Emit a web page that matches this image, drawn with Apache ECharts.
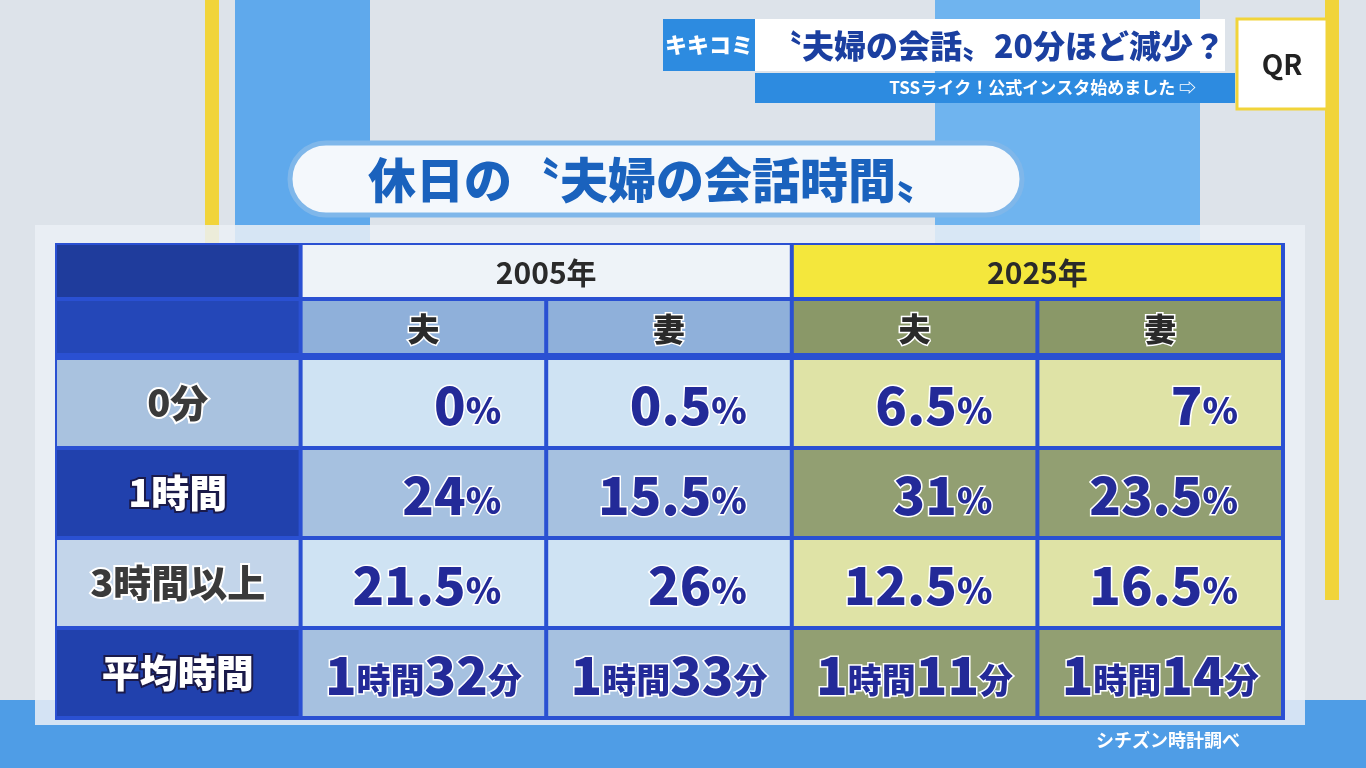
<!DOCTYPE html>
<html><head><meta charset="utf-8">
<script src="https://cdn.jsdelivr.net/npm/echarts@6/dist/echarts.min.js"></script>
<style>html,body{margin:0;padding:0;background:#dfe4ea}#main{width:1366px;height:768px}</style>
</head><body><div id="main"></div>
<script>
// table data
var yearLabels = ['2005年', '2025年'];
var subLabels = ['夫', '妻', '夫', '妻'];
var rowLabels = ['0分', '1時間', '3時間以上', '平均時間'];
var husband2005 = ['0', '24', '21.5'];
var wife2005 = ['0.5', '15.5', '26'];
var husband2025 = ['6.5', '31', '12.5'];
var wife2025 = ['7', '23.5', '16.5'];
var avgHours = [1, 1, 1, 1];
var avgMinutes = [32, 33, 11, 14];

var F = '"Noto Sans CJK JP", "Noto Sans", sans-serif';
var columns = [husband2005, wife2005, husband2025, wife2025];

var cellData = [];
rowLabels.forEach(function (r, i) { cellData.push([0, i, r]); });
columns.forEach(function (col, c) {
    col.forEach(function (v, i) { cellData.push([c + 1, i, v + '%']); });
    cellData.push([c + 1, 3, avgHours[c] + '時間' + avgMinutes[c] + '分']);
});
var headData = [[0, 0, ''], [0, 1, '']];
yearLabels.forEach(function (y, i) { headData.push([i * 2 + 1, 0, y]); });
subLabels.forEach(function (s, i) { headData.push([i + 1, 1, s]); });

var rowHeadColors = ['#a9c2df', '#2141ad', '#c3d5ea', '#2141ad'];
var bodyColors = [
    ['#cfe3f3', '#a6c1e0', '#cfe3f3', '#a6c1e0'],
    ['#dfe3a6', '#929f72', '#dfe3a6', '#929f72']
];

function richText(t, row) {
    if (row === 3) {
        var m = t.match(/(\d+)時間(\d+)分/);
        return '{n|' + m[1] + '}{u|時間}{n|' + m[2] + '}{u|分}';
    }
    return '{n|' + t.replace('%', '') + '}{u|%}';
}

var myChart = echarts.init(document.getElementById('main'));
var option = {
    backgroundColor: '#dde3ea',
    graphic: [
        { type: 'rect', shape: { x: 235, y: 0, width: 135, height: 768 }, style: { fill: '#5fa9ec' }, z: -10 },
        { type: 'rect', shape: { x: 205, y: 0, width: 14, height: 700 }, style: { fill: '#f1d43a' }, z: -10 },
        { type: 'rect', shape: { x: 935, y: 0, width: 265, height: 768 }, style: { fill: '#6fb4ef' }, z: -10 },
        { type: 'rect', shape: { x: 1325, y: 0, width: 14, height: 600 }, style: { fill: '#f1d43a' }, z: -10 },
        { type: 'rect', shape: { x: 0, y: 700, width: 1366, height: 68 }, style: { fill: '#4f9de6' }, z: -10 },
        { type: 'rect', shape: { x: 35, y: 225, width: 1270, height: 500 }, style: { fill: 'rgba(235,240,246,0.85)' }, z: -5 },
        { type: 'rect', shape: { x: 55, y: 243, width: 1230, height: 477 }, style: { fill: '#2a50d2' }, z: -1 },
        // title pill
        { type: 'rect', shape: { x: 290, y: 143, width: 732, height: 72, r: 36 }, style: { fill: '#f4f8fc', stroke: '#7fb7ea', lineWidth: 5 } },
        { type: 'text', x: 656, y: 180, style: { text: '休日の〝夫婦の会話時間〟', font: '900 48px ' + F, fill: '#1a62bd', align: 'center', verticalAlign: 'middle' } },
        // banner
        { type: 'rect', shape: { x: 663, y: 19, width: 92, height: 52 }, style: { fill: '#2d8be0' } },
        { type: 'text', x: 709, y: 45, style: { text: 'キキコミ', font: '900 22px ' + F, fill: '#ffffff', align: 'center', verticalAlign: 'middle' } },
        { type: 'rect', shape: { x: 755, y: 19, width: 470, height: 52 }, style: { fill: '#ffffff' } },
        { type: 'text', x: 770, y: 46, style: { text: '〝夫婦の会話〟20分ほど減少？', font: '900 32px ' + F, fill: '#1b3fa0', verticalAlign: 'middle' } },
        { type: 'rect', shape: { x: 755, y: 73, width: 480, height: 30 }, style: { fill: '#2d8be0' } },
        { type: 'text', x: 1196, y: 88, style: { text: 'TSSライク！公式インスタ始めました ⇨', font: 'bold 17px ' + F, fill: '#ffffff', align: 'right', verticalAlign: 'middle' } },
        { type: 'rect', shape: { x: 1237, y: 19, width: 90, height: 90 }, style: { fill: '#ffffff', stroke: '#f1d43a', lineWidth: 3 } },
        { type: 'text', x: 1282, y: 64, style: { text: 'QR', font: 'bold 28px ' + F, fill: '#222', align: 'center', verticalAlign: 'middle' } },
        { type: 'text', x: 1168, y: 740, z: 10, style: { text: 'シチズン時計調べ', font: 'bold 18px ' + F, fill: '#ffffff', align: 'center', verticalAlign: 'middle' } }
    ],
    grid: [
        { left: 55, right: 83, top: 243, height: 112 },
        { left: 55, right: 83, top: 358, height: 360 }
    ],
    xAxis: [
        { gridIndex: 0, type: 'category', data: [0, 1, 2, 3, 4], show: false },
        { gridIndex: 1, type: 'category', data: [0, 1, 2, 3, 4], show: false }
    ],
    yAxis: [
        { gridIndex: 0, type: 'category', data: [0, 1], inverse: true, show: false },
        { gridIndex: 1, type: 'category', data: rowLabels, inverse: true, show: false }
    ],
    series: [
        {
            type: 'custom', xAxisIndex: 0, yAxisIndex: 0, data: headData,
            renderItem: function (params, api) {
                var c = api.value(0), r = api.value(1), t = headData[params.dataIndex][2];
                var p = api.coord([c, r]), s = api.size([1, 1]);
                var w = (r === 0 && c > 0) ? s[0] * 2 : s[0];
                var x = p[0] - s[0] / 2, y = p[1] - s[1] / 2;
                var fill;
                if (c === 0) fill = r === 0 ? '#1f3c9c' : '#2447b8';
                else if (r === 0) fill = c < 3 ? '#eef3f8' : '#f4e73c';
                else fill = c < 3 ? '#8fb0da' : '#8a9868';
                return {
                    type: 'group', children: [
                        { type: 'rect', shape: { x: x + 2, y: y + 2, width: w - 4, height: s[1] - 4 }, style: { fill: fill } },
                        { type: 'text', x: x + w / 2, y: p[1] + 2, style: { text: t, font: (r === 0 ? 'bold 30px ' : '900 32px ') + F, fill: '#2a2a2a', align: 'center', verticalAlign: 'middle', stroke: r === 1 ? '#ffffff' : null, lineWidth: 3 } }
                    ]
                };
            }
        },
        {
            type: 'custom', xAxisIndex: 1, yAxisIndex: 1, data: cellData,
            renderItem: function (params, api) {
                var c = api.value(0), r = api.value(1), t = cellData[params.dataIndex][2];
                var p = api.coord([c, r]), s = api.size([1, 1]);
                var x = p[0] - s[0] / 2, y = p[1] - s[1] / 2;
                var rect = { type: 'rect', shape: { x: x + 2, y: y + 2, width: s[0] - 4, height: s[1] - 4 } };
                if (c === 0) {
                    var dark = r % 2 === 1;
                    rect.style = { fill: rowHeadColors[r] };
                    return { type: 'group', children: [rect,
                        { type: 'text', x: p[0], y: p[1], style: { text: t, font: '900 38px ' + F, fill: dark ? '#ffffff' : '#3a3a3a', stroke: dark ? '#1a1a4a' : '#ffffff', lineWidth: 4, align: 'center', verticalAlign: 'middle' } }] };
                }
                var fill = r === 3 ? (c < 3 ? '#a6c1e0' : '#929f72') : bodyColors[c < 3 ? 0 : 1][r];
                rect.style = { fill: fill };
                var avg = r === 3;
                return { type: 'group', children: [rect,
                    { type: 'text', x: avg ? p[0] : x + s[0] - 45, y: p[1] + 2, style: {
                        text: richText(t, r), align: avg ? 'center' : 'right', verticalAlign: 'middle',
                        rich: {
                            n: { font: '900 52px ' + F, fill: '#232a98', stroke: '#ffffff', lineWidth: 3 },
                            u: { font: '900 ' + (avg ? 34 : 36) + 'px ' + F, fill: '#232a98', stroke: '#ffffff', lineWidth: 3, padding: [10, 0, 0, 0] }
                        }
                    } }] };
            }
        }
    ]
};
option && myChart.setOption(option);
</script></body></html>
